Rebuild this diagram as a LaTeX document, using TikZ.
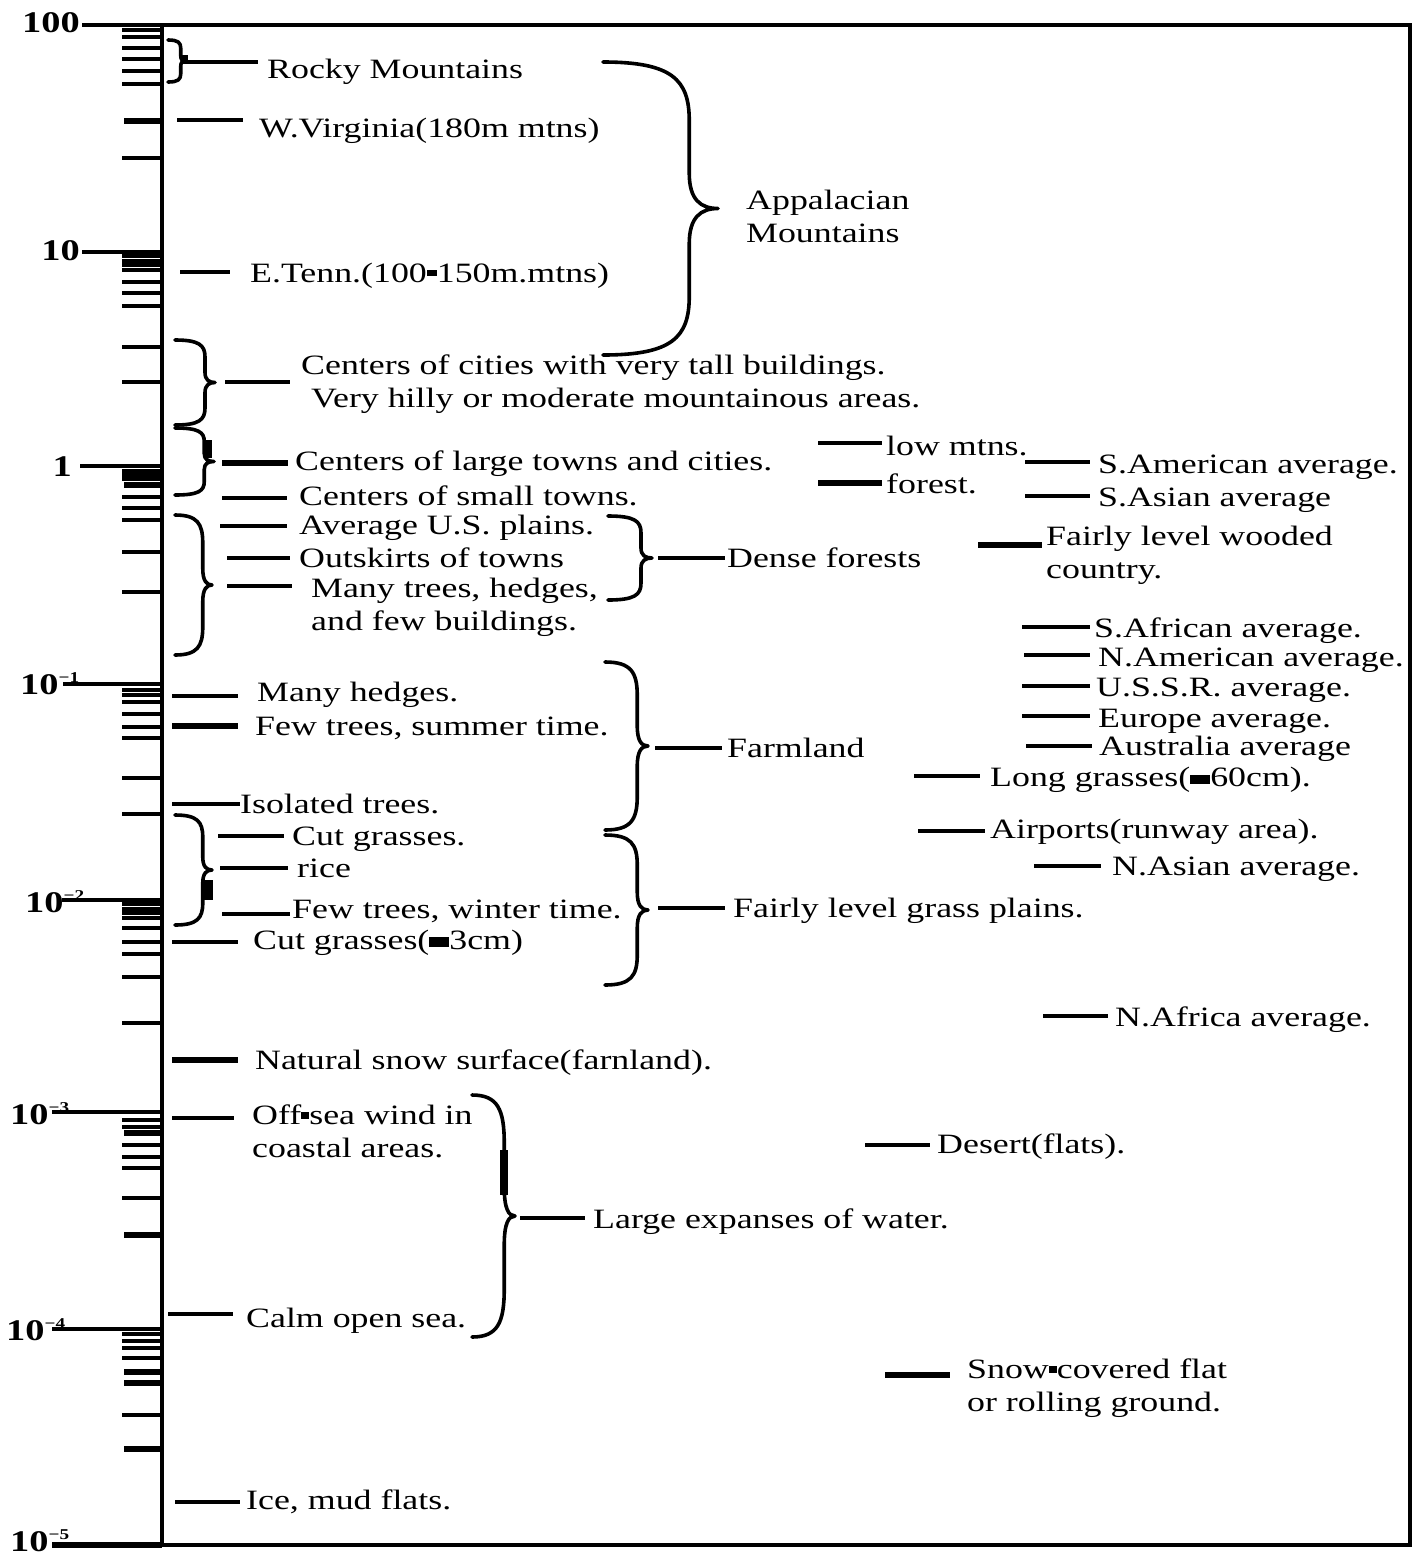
\documentclass[tikz,border=0pt]{standalone}
\usepackage{fontspec}
\setmainfont{Liberation Serif}[FakeStretch=1.28]
\newcommand\blk[3]{\rule[#3]{#1}{#2}}
\newcommand\two[3][0pt]{\vtop{\hbox{#2}\hbox{\hspace{#1}#3}}}
\newcommand\supx[1]{\raisebox{12pt}{\fontsize{15}{15}\selectfont #1}}
\newcommand\lead[5][ln]{\coordinate (#2-a) at (#3,#5); \coordinate (#2-b) at (#4,#5); \draw[#1] (#2-a) -- (#2-b);}
\newcommand\curly[5]{% name, x0, ytop, ybot, w
  \pgfmathsetmacro\bcA{#2+0.75*#5}%
  \pgfmathsetmacro\bcT{#2+#5}%
  \pgfmathsetmacro\bcM{(#3+#4)/2}%
  \pgfmathsetmacro\bcH{#4-#3}%
  \coordinate (#1) at (\bcT,\bcM);
  \draw[brace] (#2,#3) .. controls ({#2+0.6*#5},#3) and (\bcA,{#3+0.06*\bcH}) .. (\bcA,{#3+0.2*\bcH})
    -- (\bcA,{\bcM-0.12*\bcH}) .. controls (\bcA,{\bcM-0.03*\bcH}) and ({#2+0.85*#5},\bcM) .. (\bcT,\bcM)
    .. controls ({#2+0.85*#5},\bcM) and (\bcA,{\bcM+0.03*\bcH}) .. (\bcA,{\bcM+0.12*\bcH})
    -- (\bcA,{#4-0.2*\bcH}) .. controls (\bcA,{#4-0.06*\bcH}) and ({#2+0.6*#5},#4) .. (#2,#4);}
\tikzset{
  ln/.style={line width=3.2pt},
  thk/.style={line width=6pt},
  brace/.style={line width=3.6pt, line cap=round, line join=round},
  tk/.style={line width=3.2pt},
  tkb/.style={line width=5.5pt},
  lbl/.style={anchor=base west, inner sep=0pt, font=\fontsize{28}{33}\selectfont},
  axl/.style={anchor=base east, inner sep=0pt, font=\bfseries\fontsize{30}{33}\selectfont},
  axw/.style={anchor=base west, inner sep=0pt, font=\bfseries\fontsize{30}{33}\selectfont},
}
\begin{document}
\begin{tikzpicture}[x=1pt,y=-1pt]
\useasboundingbox (0,0) rectangle (1420,1553);
\fill[white] (0,0) rectangle (1420,1553);
% frame and axis
\draw[line width=3.4pt] (82,25) -- (1410,25) -- (1410,1545) -- (162,1545);
\draw[line width=4.4pt] (162,23) -- (162,1547);
% decade lines
\draw[line width=3.4pt] (82,252) -- (162,252);
\draw[line width=3.4pt] (80,466) -- (162,466);
\draw[line width=3.4pt] (63,684) -- (162,684);
\draw[line width=3.4pt] (62,900) -- (162,900);
\draw[line width=4.5pt] (52,1112) -- (162,1112);
\draw[line width=3.4pt] (52,1329) -- (162,1329);
\draw[line width=5.5pt] (52,1545) -- (162,1545);
% ticks
\foreach \y in {30,37,48,59,71,84,158, 256,261,265,270,282,293,306,347,382,
  471,475,479,497,508,520,552,592, 690,695,702,714,727,738,778,814,
  904,909,913,918,928,942,954,977,1023, 1120,1127,1145,1157,1168,1198,
  1334,1341,1348,1358,1415}
  \draw[tk] (122,\y) -- (162,\y);
\foreach \y in {121,485,1133,1235,1372,1383,1449}
  \draw[tkb] (124,\y) -- (162,\y);
% axis labels
\node[axl] (l100) at (80,32) {100};
\node[axl] (l10) at (80,260) {10};
\node[axl] (l1) at (72,476) {1};
\node[axw] (lm1) at (20,694) {10\supx{−1}};
\node[axw] (lm2) at (25,912) {10\supx{−2}};
\node[axw] (lm3) at (10,1124) {10\supx{−3}};
\node[axw] (lm4) at (6,1340) {10\supx{−4}};
\node[axw] (lm5) at (10,1551) {10\supx{−5}};

% braces
\curly{bRocky}{168}{40}{82}{17}
\fill (181,55) rectangle (188,64);
\curly{bApp}{603}{62}{355}{115}
\curly{bCity}{175}{340}{425}{40}
\curly{bLarge}{175}{428}{495}{39}
\fill (204,440) rectangle (212,458);
\curly{bPlain}{175}{515}{655}{37}
\curly{bDense}{608}{516}{600}{44}
\curly{bFarm}{605}{662}{830}{43}
\curly{bCut}{175}{815}{925}{37}
\fill (204,880) rectangle (213,900);
\curly{bGrass}{605}{835}{985}{43}
\curly{bWater}{472}{1095}{1337}{43}
\fill (500,1150) rectangle (508,1195);

% leaders
\lead{rocky}{185}{258}{62}
\lead{wva}{177}{243}{120}
\lead{etenn}{180}{230}{272}
\lead{city}{225}{290}{382}
\lead[thk]{large}{222}{288}{463}
\lead{small}{222}{287}{498}
\lead{avg}{220}{287}{526}
\lead{outsk}{227}{290}{558}
\lead{many}{227}{292}{586}
\lead{dense}{658}{725}{558}
\lead{low}{818}{882}{443}
\lead[thk]{forest}{818}{882}{483}
\lead{sam}{1025}{1090}{462}
\lead{sas}{1025}{1090}{496}
\lead[thk]{wood}{978}{1042}{545}
\lead{saf}{1022}{1090}{627}
\lead{nam}{1024}{1090}{655}
\lead{ussr}{1022}{1090}{686}
\lead{eur}{1022}{1090}{716}
\lead{aus}{1026}{1092}{746}
\lead{longg}{914}{980}{776}
\lead{air}{918}{985}{831}
\lead{nas}{1034}{1101}{866}
\lead{hedg}{172}{238}{696}
\lead[thk]{summer}{172}{238}{726}
\lead{isol}{172}{240}{804}
\lead{farm}{655}{722}{748}
\lead{cutg}{218}{284}{836}
\lead{rice}{220}{288}{868}
\lead{winter}{222}{290}{914}
\lead{cut3}{172}{238}{942}
\lead{grass}{658}{725}{908}
\lead{naf}{1043}{1108}{1016}
\lead[thk]{snow}{172}{238}{1060}
\lead{offsea}{172}{234}{1118}
\lead{water}{520}{585}{1218}
\lead{desert}{865}{930}{1145}
\lead{calm}{168}{233}{1314}
\lead[thk]{snowc}{885}{950}{1375}
\lead{ice}{175}{240}{1502}

% texts
\node[lbl] (tRocky) at (267,78) {Rocky Mountains};
\node[lbl] (tWva) at (259,137) {W.Virginia(180m mtns)};
\node[lbl] (tEtenn) at (250,282) {E.Tenn.(100\blk{10pt}{6pt}{6pt}150m.mtns)};
\node[lbl] (tApp) at (746,209) {\two{Appalacian}{Mountains}};
\node[lbl] (tCity) at (301,374) {\two[10pt]{Centers of cities with very tall buildings.}{Very hilly or moderate mountainous areas.}};
\node[lbl] (tLarge) at (295,470) {Centers of large towns and cities.};
\node[lbl] (tSmall) at (299,505) {Centers of small towns.};
\node[lbl] (tAvg) at (299,534) {Average U.S. plains.};
\node[lbl] (tOut) at (299,567) {Outskirts of towns};
\node[lbl] (tMany) at (311,597) {\two{Many trees, hedges,}{and few buildings.}};
\node[lbl] (tDense) at (727,567) {Dense forests};
\node[lbl] (tLow) at (886,455) {low mtns.};
\node[lbl] (tForest) at (886,493) {forest.};
\node[lbl] (tSam) at (1098,473) {S.American average.};
\node[lbl] (tSas) at (1098,506) {S.Asian average};
\node[lbl] (tWood) at (1046,545) {\two{Fairly level wooded}{country.}};
\node[lbl] (tSaf) at (1094,637) {S.African average.};
\node[lbl] (tNam) at (1098,666) {N.American average.};
\node[lbl] (tUssr) at (1096,696) {U.S.S.R. average.};
\node[lbl] (tEur) at (1098,727) {Europe average.};
\node[lbl] (tAus) at (1099,755) {Australia average};
\node[lbl] (tLong) at (990,786) {Long grasses(\blk{20pt}{9pt}{2pt}60cm).};
\node[lbl] (tAir) at (990,838) {Airports(runway area).};
\node[lbl] (tNas) at (1112,875) {N.Asian average.};
\node[lbl] (tHedg) at (257,701) {Many hedges.};
\node[lbl] (tSummer) at (255,735) {Few trees, summer time.};
\node[lbl] (tIsol) at (240,813) {Isolated trees.};
\node[lbl] (tFarm) at (727,757) {Farmland};
\node[lbl] (tCutg) at (292,845) {Cut grasses.};
\node[lbl] (tRice) at (297,877) {rice};
\node[lbl] (tWinter) at (292,918) {Few trees, winter time.};
\node[lbl] (tCut3) at (253,949) {Cut grasses(\blk{20pt}{10pt}{2pt}3cm)};
\node[lbl] (tGrass) at (733,917) {Fairly level grass plains.};
\node[lbl] (tNaf) at (1115,1026) {N.Africa average.};
\node[lbl] (tSnow) at (255,1069) {Natural snow surface(farnland).};
\node[lbl] (tOff) at (252,1124) {\two{Off\blk{8pt}{7pt}{5pt}sea wind in}{coastal areas.}};
\node[lbl] (tWater) at (593,1228) {Large expanses of water.};
\node[lbl] (tDesert) at (937,1153) {Desert(flats).};
\node[lbl] (tCalm) at (246,1327) {Calm open sea.};
\node[lbl] (tSnowc) at (967,1378) {\two{Snow\blk{8pt}{7pt}{5pt}covered flat}{or rolling ground.}};
\node[lbl] (tIce) at (246,1509) {Ice, mud flats.};
\end{tikzpicture}
\end{document}
